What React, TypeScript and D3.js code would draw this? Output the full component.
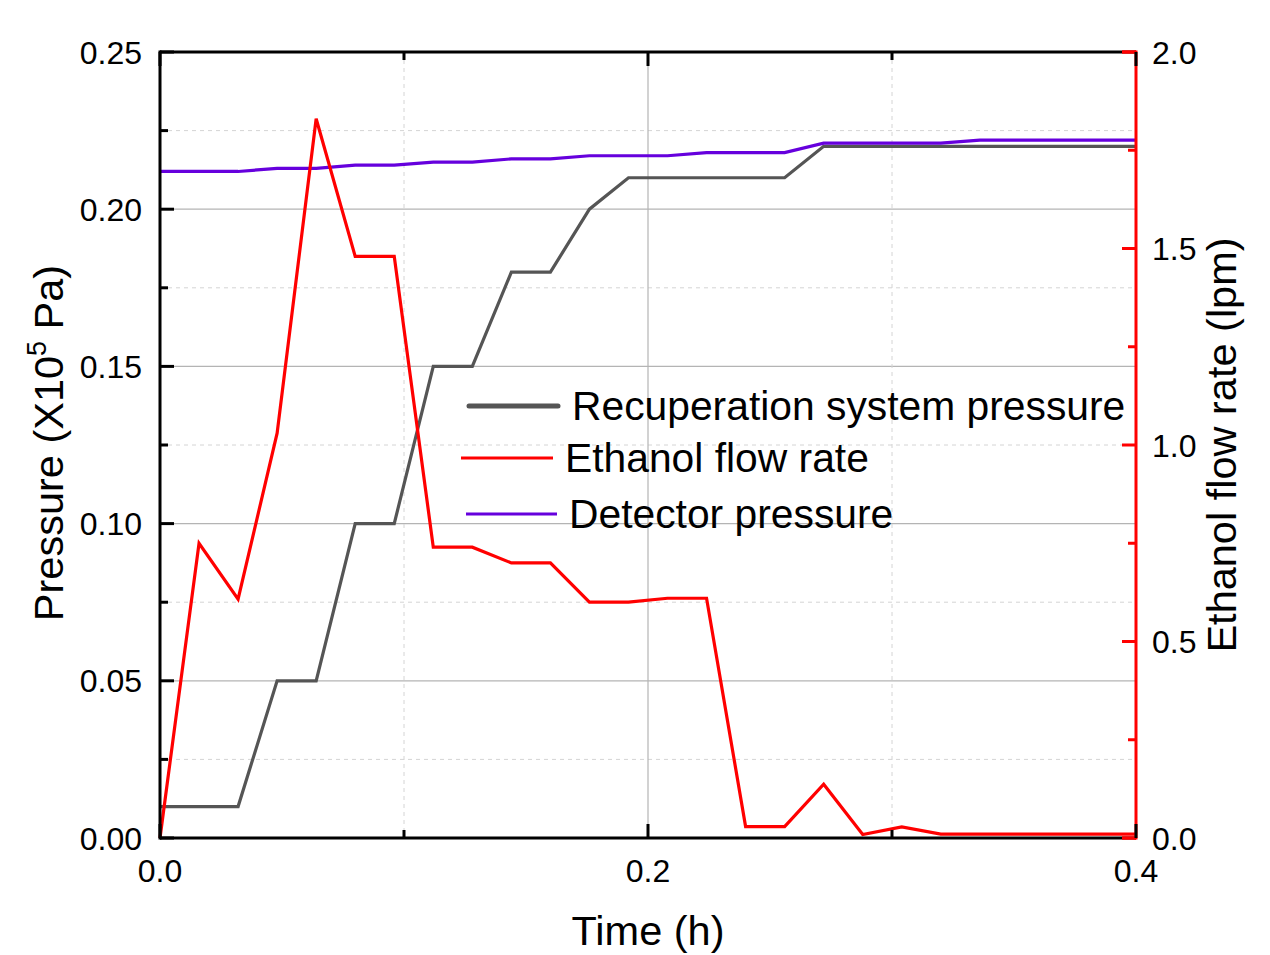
import React from 'react';
import * as d3 from 'd3';

// time in hours, one reading every ~1 min
const time = [0, 0.016, 0.032, 0.048, 0.064, 0.08, 0.096, 0.112, 0.128, 0.144, 0.16, 0.176, 0.192,
  0.208, 0.224, 0.24, 0.256, 0.272, 0.288, 0.304, 0.32, 0.336, 0.352, 0.368, 0.384, 0.4];
const recuperation = [0.01, 0.01, 0.01, 0.05, 0.05, 0.10, 0.10, 0.15, 0.15, 0.18, 0.18, 0.20, 0.21,
  0.21, 0.21, 0.21, 0.21, 0.22, 0.22, 0.22, 0.22, 0.22, 0.22, 0.22, 0.22, 0.22];
const ethanol = [0, 0.75, 0.608, 1.03, 1.83, 1.48, 1.48, 0.74, 0.74, 0.70, 0.70, 0.60, 0.60,
  0.61, 0.61, 0.029, 0.029, 0.137, 0.009, 0.028, 0.01, 0.01, 0.01, 0.01, 0.01, 0.01];
const detector = [0.212, 0.212, 0.212, 0.213, 0.213, 0.214, 0.214, 0.215, 0.215, 0.216, 0.216, 0.217, 0.217,
  0.217, 0.218, 0.218, 0.218, 0.221, 0.221, 0.221, 0.221, 0.222, 0.222, 0.222, 0.222, 0.222];

const xTicks = [0, 0.2, 0.4];
const xMinor = [0.1, 0.3];
const leftTicks = [0, 0.05, 0.10, 0.15, 0.20, 0.25];
const leftMinor = [0.025, 0.075, 0.125, 0.175, 0.225];
const rightTicks = [0, 0.5, 1.0, 1.5, 2.0];
const rightMinor = [0.25, 0.75, 1.25, 1.75];

const W = 1270, H = 955;
const L = 160, R = 1136, T = 52, B = 838;
const FONT = '"Liberation Sans", Arial, sans-serif';

export default function App() {
  const x = d3.scaleLinear().domain([0, 0.4]).range([L, R]);
  const yl = d3.scaleLinear().domain([0, 0.25]).range([B, T]);
  const yr = d3.scaleLinear().domain([0, 2]).range([B, T]);

  const lineL = d3.line<number>().x((_, i) => x(time[i])).y(d => yl(d));
  const lineR = d3.line<number>().x((_, i) => x(time[i])).y(d => yr(d));

  const grid = '#b4b4b4';

  return (
    <svg width={W} height={H} style={{ position: 'absolute', left: 0, top: 0, background: '#fff' }}
      fontFamily={FONT}>
      {/* grid */}
      {leftTicks.filter(v => v > 0 && v < 0.25).map(v => (
        <line key={'gh' + v} x1={L} x2={R} y1={yl(v)} y2={yl(v)} stroke={grid} strokeWidth={1.2} />
      ))}
      {leftMinor.map(v => (
        <line key={'gm' + v} x1={L} x2={R} y1={yl(v)} y2={yl(v)} stroke="#d4d4d4" strokeWidth={1}
          strokeDasharray="4,4" />
      ))}
      {xTicks.filter(v => v > 0 && v < 0.4).map(v => (
        <line key={'gv' + v} x1={x(v)} x2={x(v)} y1={T} y2={B} stroke={grid} strokeWidth={1.2} />
      ))}
      {xMinor.map(v => (
        <line key={'gvm' + v} x1={x(v)} x2={x(v)} y1={T} y2={B} stroke="#d4d4d4" strokeWidth={1}
          strokeDasharray="4,4" />
      ))}

      {/* series */}
      <path d={lineL(recuperation) || ''} fill="none" stroke="#555555" strokeWidth={3.2} />
      <path d={lineL(detector) || ''} fill="none" stroke="#6600dd" strokeWidth={3.2} />
      <path d={lineR(ethanol) || ''} fill="none" stroke="#ff0000" strokeWidth={3.2} />

      {/* frame */}
      <line x1={L} x2={R} y1={T} y2={T} stroke="#000" strokeWidth={3} />
      <line x1={L} x2={R} y1={B} y2={B} stroke="#000" strokeWidth={3} />
      <line x1={L} x2={L} y1={T - 1.5} y2={B + 1.5} stroke="#000" strokeWidth={3} />
      <line x1={R} x2={R} y1={T - 1.5} y2={B + 1.5} stroke="#ff0000" strokeWidth={3} />
      <line x1={R - 14} x2={R} y1={T} y2={T} stroke="#ff0000" strokeWidth={3} />
      <line x1={R - 14} x2={R} y1={B} y2={B} stroke="#ff0000" strokeWidth={3} />

      {/* left axis ticks */}
      {leftTicks.map(v => (
        <g key={'lt' + v}>
          <line x1={L} x2={L + 14} y1={yl(v)} y2={yl(v)} stroke="#000" strokeWidth={3} />
          <text x={142} y={yl(v)} dy="0.36em" textAnchor="end" fontSize={32}>{v.toFixed(2)}</text>
        </g>
      ))}
      {leftMinor.map(v => (
        <line key={'lm' + v} x1={L} x2={L + 8} y1={yl(v)} y2={yl(v)} stroke="#000" strokeWidth={3} />
      ))}

      {/* right axis ticks */}
      {rightTicks.map(v => (
        <g key={'rt' + v}>
          <line x1={R} x2={R - 14} y1={yr(v)} y2={yr(v)} stroke="#ff0000" strokeWidth={3} />
          <text x={1152} y={yr(v)} dy="0.36em" textAnchor="start" fontSize={32}>{v.toFixed(1)}</text>
        </g>
      ))}
      {rightMinor.map(v => (
        <line key={'rm' + v} x1={R} x2={R - 8} y1={yr(v)} y2={yr(v)} stroke="#ff0000" strokeWidth={3} />
      ))}

      {/* x axis ticks, bottom and top */}
      {xTicks.map(v => (
        <g key={'xt' + v}>
          <line x1={x(v)} x2={x(v)} y1={B} y2={B - 14} stroke="#000" strokeWidth={3} />
          <line x1={x(v)} x2={x(v)} y1={T} y2={T + 14} stroke="#000" strokeWidth={3} />
          <text x={x(v)} y={882} textAnchor="middle" fontSize={32}>{v.toFixed(1)}</text>
        </g>
      ))}
      {xMinor.map(v => (
        <g key={'xm' + v}>
          <line x1={x(v)} x2={x(v)} y1={B} y2={B - 8} stroke="#000" strokeWidth={3} />
          <line x1={x(v)} x2={x(v)} y1={T} y2={T + 8} stroke="#000" strokeWidth={3} />
        </g>
      ))}

      {/* axis titles */}
      <text x={648} y={945} textAnchor="middle" fontSize={41.5}>Time (h)</text>
      <text transform="translate(63,443) rotate(-90)" textAnchor="middle" fontSize={41.5}>
        Pressure (X10<tspan fontSize={27} dy={-17}>5</tspan><tspan dy={17}> Pa)</tspan>
      </text>
      <text transform="translate(1236,445) rotate(-90)" textAnchor="middle" fontSize={41.5}>
        Ethanol flow rate (lpm)
      </text>

      {/* legend */}
      <line x1={469} x2={558} y1={406} y2={406} stroke="#555555" strokeWidth={5} strokeLinecap="round" />
      <text x={572} y={420} fontSize={40.8}>Recuperation system pressure</text>
      <line x1={461} x2={553} y1={458} y2={458} stroke="#ff0000" strokeWidth={3} />
      <text x={565} y={472} fontSize={40.8}>Ethanol flow rate</text>
      <line x1={466} x2={557} y1={514} y2={514} stroke="#6600dd" strokeWidth={3} />
      <text x={569} y={528} fontSize={40.8}>Detector pressure</text>
    </svg>
  );
}
